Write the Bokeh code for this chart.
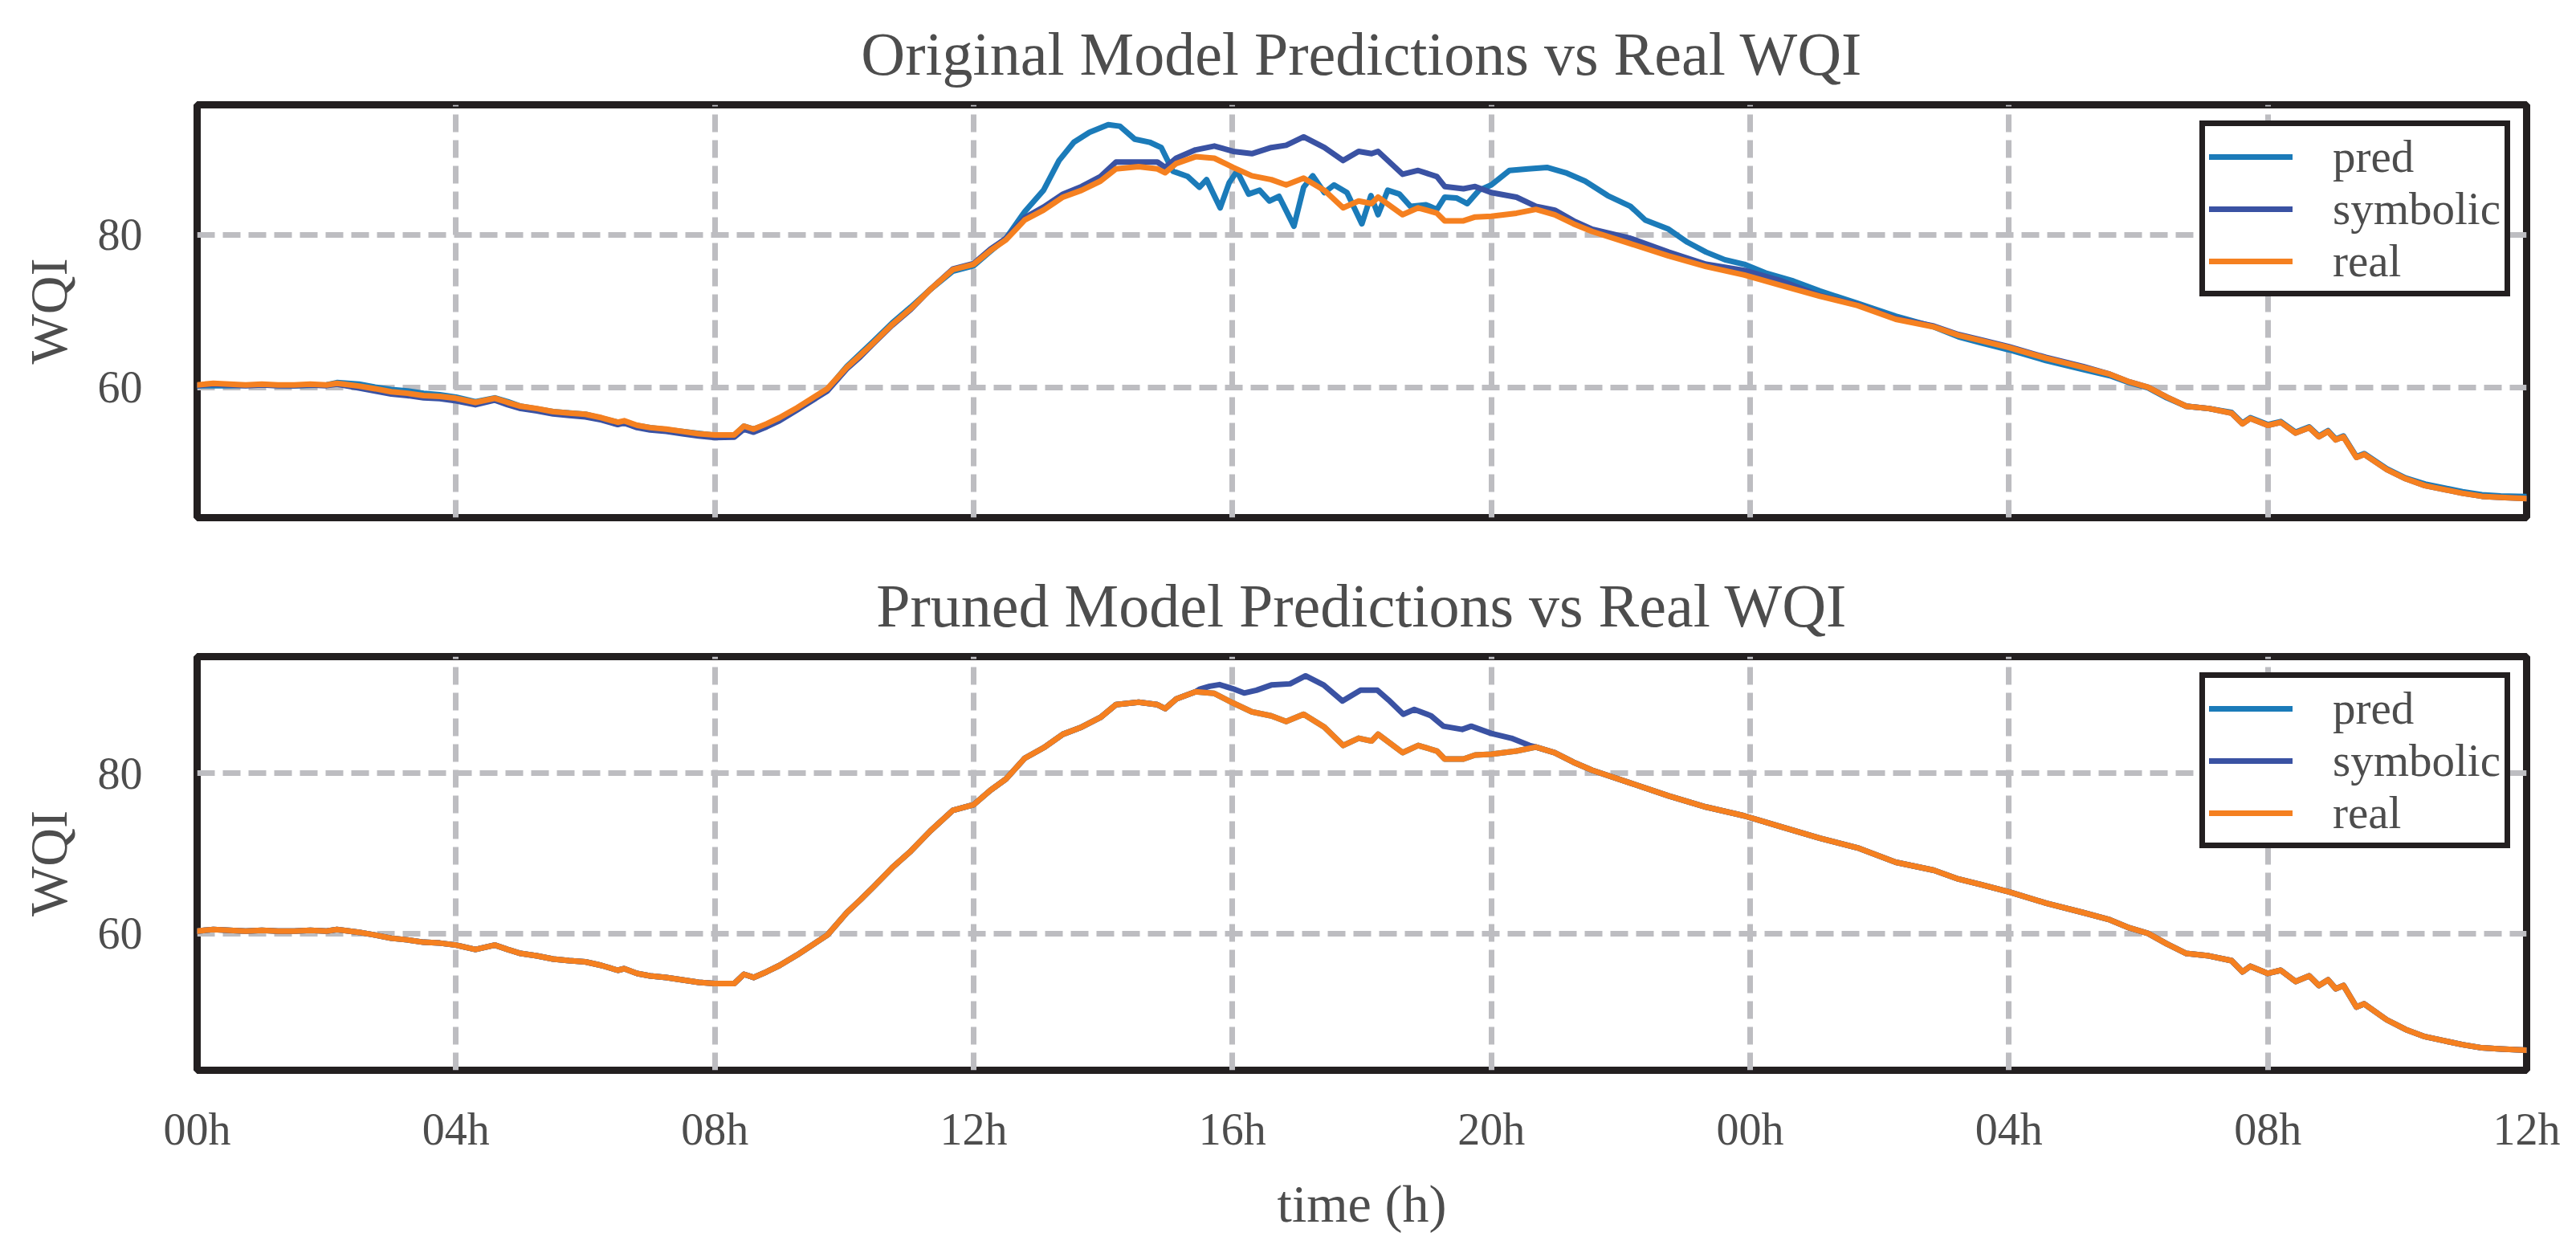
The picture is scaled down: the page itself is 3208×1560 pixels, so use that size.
from bokeh.embed import file_html
from bokeh.layouts import column
from bokeh.models import FixedTicker, Range1d
from bokeh.plotting import figure
from bokeh.resources import INLINE

# hours since 00h of day one
real_t = [0.0, 0.25, 0.5, 0.75, 1.0, 1.25, 1.5, 1.75, 2.0, 2.16,
          2.5, 2.75, 3.0, 3.25, 3.5, 3.75, 4.0, 4.3, 4.6, 4.8,
          5.0, 5.25, 5.5, 5.75, 6.0, 6.25, 6.5, 6.6, 6.8, 7.0,
          7.25, 7.5, 7.75, 8.0, 8.3, 8.45, 8.6, 8.8, 9.0, 9.27,
          9.57, 9.74, 10.04, 10.25, 10.45, 10.74, 11.03, 11.33, 11.68, 12.0,
          12.26, 12.5, 12.79, 13.08, 13.38, 13.67, 13.96, 14.2, 14.55, 14.84,
          14.96, 15.13, 15.43, 15.72, 16.01, 16.3, 16.6, 16.83, 17.1, 17.42,
          17.71, 17.95, 18.15, 18.25, 18.63, 18.87, 19.16, 19.28, 19.57, 19.75,
          20.0, 20.39, 20.69, 20.98, 21.27, 21.56, 22.15, 22.74, 23.32, 23.91,
          24.49, 25.08, 25.66, 26.25, 26.84, 27.22, 27.57, 28.0, 28.57, 29.15,
          29.56, 29.86, 30.15, 30.44, 30.74, 31.09, 31.44, 31.61, 31.73, 32.0,
          32.2, 32.43, 32.64, 32.79, 32.93, 33.05, 33.17, 33.37, 33.49, 33.84,
          34.13, 34.43, 34.72, 35.01, 35.31, 35.6, 36.0]
real_wqi = [60.3, 60.5, 60.4, 60.3, 60.4, 60.3, 60.3, 60.4, 60.3, 60.5,
            60.15, 59.8, 59.4, 59.2, 58.9, 58.8, 58.55, 58.0, 58.55, 58.0,
            57.5, 57.2, 56.8, 56.6, 56.45, 56.0, 55.4, 55.6, 55.0, 54.7,
            54.5, 54.2, 53.9, 53.75, 53.75, 54.9, 54.5, 55.2, 56.0, 57.3,
            58.9, 59.8, 62.6, 64.2, 65.8, 68.2, 70.3, 72.8, 75.4, 76.1,
            77.9, 79.3, 81.9, 83.2, 84.9, 85.8, 87.0, 88.6, 88.9, 88.6,
            88.1, 89.3, 90.2, 90.0, 88.8, 87.7, 87.2, 86.5, 87.4, 85.8,
            83.5, 84.4, 84.05, 84.9, 82.6, 83.5, 82.8, 81.8, 81.8, 82.3,
            82.4, 82.8, 83.3, 82.6, 81.4, 80.4, 78.8, 77.2, 75.8, 74.7,
            73.3, 71.9, 70.7, 68.9, 67.9, 66.8, 66.1, 65.2, 63.8, 62.6,
            61.7, 60.7, 60.0, 58.7, 57.5, 57.2, 56.6, 55.2, 55.9, 55.0,
            55.4, 54.0, 54.7, 53.5, 54.2, 53.1, 53.5, 50.8, 51.2, 49.2,
            48.0, 47.1, 46.6, 46.1, 45.7, 45.55, 45.4]

# symbolic model (original), same time points as real
sym_wqi = [60.2, 60.4, 60.3, 60.2, 60.3, 60.2, 60.2, 60.3, 60.2, 60.4,
           59.9, 59.5, 59.1, 58.9, 58.6, 58.5, 58.2, 57.7, 58.3, 57.7,
           57.2, 56.9, 56.5, 56.3, 56.1, 55.7, 55.1, 55.3, 54.7, 54.4,
           54.2, 53.9, 53.6, 53.4, 53.45, 54.5, 54.1, 54.8, 55.6, 57.0,
           58.6, 59.5, 62.4, 64.0, 65.7, 68.1, 70.2, 72.8, 75.5, 76.2,
           78.1, 79.5, 82.2, 83.6, 85.3, 86.3, 87.6, 89.5, 89.5, 89.5,
           88.8, 90.0, 91.1, 91.6, 90.9, 90.6, 91.4, 91.7, 92.8, 91.4,
           89.7, 90.9, 90.6, 90.9, 87.9, 88.4, 87.6, 86.3, 86.0, 86.3,
           85.5, 84.9, 83.7, 83.2, 81.8, 80.7, 79.5, 77.7, 76.1, 75.3,
           73.9, 72.0, 70.8, 69.0, 68.0, 66.9, 66.2, 65.3, 63.9, 62.7,
           61.7, 60.7, 60.0, 58.7, 57.5, 57.2, 56.6, 55.2, 55.9, 55.0,
           55.4, 54.0, 54.7, 53.5, 54.2, 53.1, 53.5, 50.8, 51.2, 49.2,
           48.0, 47.1, 46.6, 46.1, 45.7, 45.55, 45.4]

# network prediction (original)
pred_t = [0.0, 0.5, 1.0, 1.5, 2.0, 2.16, 2.5, 2.75, 3.0, 3.25,
          3.5, 3.75, 4.0, 4.3, 4.6, 4.8, 5.0, 5.5, 6.0, 6.5,
          7.0, 7.5, 8.0, 8.3, 8.45, 8.6, 8.8, 9.0, 9.27, 9.57,
          9.74, 10.04, 10.45, 10.74, 11.03, 11.33, 11.68, 12.0, 12.26, 12.5,
          12.79, 13.08, 13.32, 13.55, 13.79, 14.08, 14.26, 14.49, 14.72, 14.9,
          15.08, 15.31, 15.49, 15.6, 15.81, 15.95, 16.07, 16.25, 16.42, 16.57,
          16.72, 16.95, 17.1, 17.24, 17.42, 17.57, 17.77, 18.0, 18.14, 18.25,
          18.4, 18.58, 18.75, 18.99, 19.16, 19.28, 19.46, 19.63, 19.81, 20.0,
          20.28, 20.57, 20.86, 21.15, 21.45, 21.8, 22.15, 22.38, 22.74, 23.03,
          23.32, 23.61, 23.91, 24.26, 24.67, 25.08, 25.66, 26.25, 26.84, 27.22,
          27.57, 28.0, 28.57, 29.15, 29.56, 29.86, 30.15, 30.44, 30.74, 31.09,
          31.44, 31.61, 31.73, 32.0, 32.2, 32.43, 32.64, 32.79, 32.93, 33.05,
          33.17, 33.37, 33.49, 33.84, 34.13, 34.43, 34.72, 35.01, 35.31, 35.6,
          36.0]
pred_wqi = [60.2, 60.2, 60.3, 60.2, 60.3, 60.6, 60.4, 60.0, 59.7, 59.5,
            59.2, 59.0, 58.7, 58.1, 58.6, 58.1, 57.5, 56.8, 56.45, 55.4,
            54.7, 54.2, 53.7, 53.7, 54.9, 54.5, 55.1, 55.9, 57.2, 58.8,
            59.7, 62.7, 66.0, 68.4, 70.5, 72.8, 75.2, 75.9, 77.8, 79.5,
            83.0, 85.8, 89.7, 92.1, 93.4, 94.4, 94.2, 92.5, 92.1, 91.4,
            88.3, 87.6, 86.2, 87.2, 83.5, 86.8, 88.3, 85.3, 85.8, 84.4,
            85.0, 81.1, 86.2, 87.7, 85.5, 86.5, 85.5, 81.4, 85.1, 82.6,
            85.8, 85.3, 83.7, 83.9, 83.3, 84.9, 84.8, 84.05, 85.8, 86.5,
            88.4, 88.6, 88.8, 88.1, 87.0, 85.1, 83.7, 81.9, 80.7, 79.0,
            77.7, 76.7, 76.1, 74.9, 73.9, 72.6, 71.0, 69.3, 67.9, 66.6,
            65.8, 64.9, 63.5, 62.3, 61.5, 60.6, 59.9, 58.6, 57.5, 57.2,
            56.7, 55.3, 56.0, 55.1, 55.5, 54.1, 54.8, 53.6, 54.3, 53.2,
            53.6, 50.9, 51.3, 49.3, 48.1, 47.3, 46.8, 46.3, 45.9, 45.75,
            45.65]

# pruned symbolic model: differs from real only in this window
sym_pruned_win_t = [15.5, 15.65, 15.8, 16.0, 16.18, 16.37, 16.6, 16.89, 17.13, 17.41,
                    17.7, 17.98, 18.24, 18.41, 18.64, 18.81, 19.07, 19.26, 19.55, 19.69,
                    20.0, 20.31, 20.59, 20.69]
sym_pruned_win = [90.55, 90.9, 91.1, 90.6, 90.05, 90.4, 91.05, 91.2, 92.2, 91.05,
                  89.05, 90.4, 90.4, 89.2, 87.4, 88.0, 87.2, 85.9, 85.5, 85.9,
                  85.0, 84.4, 83.5, 83.3]

tick_hours = [0, 4, 8, 12, 16, 20, 24, 28, 32, 36]
tick_labels = ["00h", "04h", "08h", "12h", "16h", "20h", "00h", "04h", "08h", "12h"]

C_PRED = "#1b7bb9"
C_SYM = "#3a52a3"
C_REAL = "#f58020"
TXT = "#4d4d4d"
FONT = "Liberation Serif"

sym_pruned_t = ([t for t in real_t if t < 15.45] + sym_pruned_win_t
                + [t for t in real_t if t > 20.75])
sym_pruned = ([v for t, v in zip(real_t, real_wqi) if t < 15.45] + sym_pruned_win
              + [v for t, v in zip(real_t, real_wqi) if t > 20.75])


def make_panel(title, height, ylo, yhi, top_border, bottom_border, show_x):
    p = figure(width=3192, height=height, title=title,
               x_range=Range1d(0, 36), y_range=Range1d(ylo, yhi),
               output_backend="svg", toolbar_location=None,
               min_border_left=245, min_border_right=46,
               min_border_top=top_border, min_border_bottom=bottom_border)
    p.title.align = "center"
    p.title.text_font = FONT
    p.title.text_font_size = "76px"
    p.title.text_font_style = "normal"
    p.title.text_color = TXT
    p.title.standoff = 44

    p.outline_line_color = "#231f20"
    p.outline_line_width = 9

    p.xgrid.ticker = FixedTicker(ticks=tick_hours)
    p.ygrid.ticker = FixedTicker(ticks=[60, 80])
    for g in (p.xgrid, p.ygrid):
        g.grid_line_color = "#bdbdc1"
        g.grid_line_width = 7
        g.grid_line_dash = "22 10"

    p.yaxis.ticker = FixedTicker(ticks=[60, 80])
    p.yaxis.axis_label = "WQI"
    p.xaxis.ticker = FixedTicker(ticks=tick_hours)
    p.xaxis.major_label_overrides = {h: s for h, s in zip(tick_hours, tick_labels)}
    for ax in (p.xaxis, p.yaxis):
        ax.axis_line_color = None
        ax.major_tick_line_color = None
        ax.minor_tick_line_color = None
        ax.major_label_text_font = FONT
        ax.major_label_text_font_size = "56px"
        ax.major_label_text_color = TXT
        ax.axis_label_text_font = FONT
        ax.axis_label_text_font_size = "66px"
        ax.axis_label_text_font_style = "normal"
        ax.axis_label_text_color = TXT
    p.yaxis.major_label_standoff = 62
    p.yaxis.axis_label_standoff = 22
    p.xaxis.major_label_standoff = 36
    p.xaxis.axis_label_standoff = 22
    if show_x:
        p.xaxis.axis_label = "time (h)"
    else:
        p.xaxis.visible = False
    return p


def style_legend(p):
    lg = p.legend[0]
    lg.location = "top_right"
    lg.margin = 20
    lg.padding = 5
    lg.spacing = 0
    lg.border_line_color = "#231f20"
    lg.border_line_alpha = 1.0
    lg.border_line_width = 7
    lg.background_fill_color = "white"
    lg.background_fill_alpha = 1.0
    lg.label_text_font = FONT
    lg.label_text_font_size = "57px"
    lg.label_text_color = TXT
    lg.label_height = 56
    lg.glyph_height = 56
    lg.glyph_width = 104
    lg.label_standoff = 50


line_kw = dict(line_width=7, line_cap="round", line_join="round")

p1 = make_panel("Original Model Predictions vs Real WQI", 676, 42.9, 97.0, 129, 32, False)
p1.line(pred_t, pred_wqi, color=C_PRED, legend_label="pred", **line_kw)
p1.line(real_t, sym_wqi, color=C_SYM, legend_label="symbolic", **line_kw)
p1.line(real_t, real_wqi, color=C_REAL, legend_label="real", **line_kw)
style_legend(p1)

p2 = make_panel("Pruned Model Predictions vs Real WQI", 876, 42.9, 94.6, 141, 220, True)
p2.line(real_t, real_wqi, color=C_PRED, legend_label="pred", **line_kw)
p2.line(sym_pruned_t, sym_pruned, color=C_SYM, legend_label="symbolic", **line_kw)
p2.line(real_t, real_wqi, color=C_REAL, legend_label="real", **line_kw)
style_legend(p2)

layout = column(p1, p2, spacing=0)
open("out.html", "w").write(file_html(layout, INLINE))
